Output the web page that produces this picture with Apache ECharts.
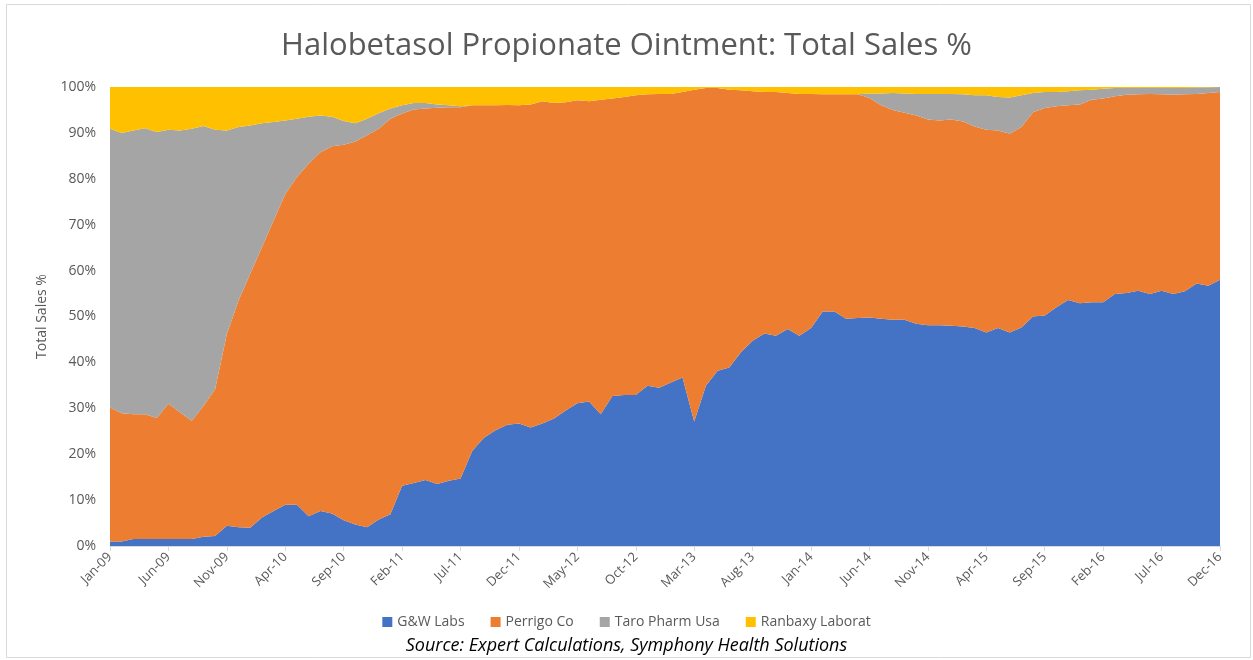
<!DOCTYPE html>
<html>
<head>
<meta charset="utf-8">
<script src="https://cdn.jsdelivr.net/npm/echarts@6/dist/echarts.min.js"></script>
<style>
html,body{margin:0;padding:0;background:#fff;}
#chart{width:1253px;height:660px;}
</style>
</head>
<body>
<div id="chart"></div>
<script>
// Months Jan-09 .. Dec-16
var monthNames = ['Jan','Feb','Mar','Apr','May','Jun','Jul','Aug','Sep','Oct','Nov','Dec'];
var years = ['09','10','11','12','13','14','15','16'];
var categories = [];
years.forEach(function(y){ monthNames.forEach(function(m){ categories.push(m + '-' + y); }); });

var seriesNames = ['G&W Labs','Perrigo Co','Taro Pharm Usa','Ranbaxy Laborat'];

var gwLabs = [
 1.0,1.0,1.5,1.5,1.5,1.5,1.5,1.5,2.0,2.2,
 4.4,4.1,4.0,6.2,7.6,9.0,9.0,6.5,7.6,7.1,
 5.6,4.7,4.1,5.8,6.9,13.1,13.7,14.4,13.5,14.2,
 14.7,20.7,23.6,25.2,26.4,26.7,25.8,26.7,27.8,29.5,
 31.1,31.5,28.7,32.7,32.9,32.9,34.9,34.5,35.6,36.7,
 27.1,34.9,38.2,38.9,42.2,44.7,46.3,45.8,47.3,45.8,
 47.5,51.1,51.1,49.5,49.7,49.8,49.5,49.3,49.3,48.4,
 48.1,48.1,48.0,47.8,47.5,46.5,47.5,46.5,47.6,50.0,
 50.2,52.0,53.6,52.9,53.1,53.1,54.9,55.1,55.6,54.9,
 55.6,54.9,55.5,57.2,56.7,58.0
];
var perrigo = [
 29.2,27.9,27.2,27.2,26.4,29.5,27.6,25.8,28.5,32.0,
 41.8,49.4,55.3,58.9,63.3,67.7,71.4,76.8,78.2,80.0,
 81.8,83.4,85.4,85.1,86.2,81.1,81.4,80.9,82.0,81.4,
 80.9,75.3,72.4,70.8,69.7,69.3,70.4,70.2,68.7,67.2,
 66.0,65.4,68.5,64.8,64.9,65.3,63.5,64.0,62.9,62.2,
 72.3,64.9,61.6,60.5,57.1,54.4,52.6,53.1,51.4,52.7,
 51.0,47.3,47.3,48.9,48.7,47.8,46.5,45.7,45.1,45.4,
 44.8,44.6,44.9,44.7,43.9,44.2,43.0,43.3,43.7,44.5,
 45.2,43.8,42.4,43.3,44.1,44.4,43.1,43.2,42.8,43.6,
 42.8,43.4,42.9,41.3,42.0,40.9
];
var taro = [
 60.7,61.1,61.8,62.3,62.3,59.7,61.4,63.6,61.0,56.5,
 44.3,37.8,32.3,27.0,21.5,16.0,12.7,10.2,8.0,6.4,
 5.2,4.0,3.6,3.4,2.2,1.8,1.4,1.2,0.7,0.4,
 0.2,0,0,0,0,0,0,0,0,0,
 0,0,0,0,0,0,0,0,0,0,
 0,0,0,0,0,0,0,0,0,0,
 0,0,0,0,0,1.0,2.6,3.7,4.2,4.7,
 5.6,5.8,5.6,5.9,6.8,7.5,7.3,7.9,6.9,4.2,
 3.5,3.1,3.1,3.1,2.2,2.1,1.8,1.5,1.4,1.3,
 1.4,1.5,1.4,1.4,1.2,1.1
];
var ranbaxy = [
 9.1,10.0,9.5,9.0,9.8,9.3,9.5,9.1,8.5,9.3,
 9.5,8.7,8.4,7.9,7.6,7.3,6.9,6.5,6.2,6.5,
 7.4,7.9,6.9,5.7,4.7,4.0,3.5,3.5,3.8,4.0,
 4.2,4.0,4.0,4.0,3.9,4.0,3.8,3.1,3.5,3.3,
 2.9,3.1,2.8,2.5,2.2,1.8,1.6,1.5,1.5,1.1,
 0.6,0.2,0.2,0.6,0.7,0.9,1.1,1.1,1.3,1.5,
 1.5,1.6,1.6,1.6,1.6,1.4,1.4,1.3,1.4,1.5,
 1.5,1.5,1.5,1.6,1.8,1.8,2.2,2.3,1.8,1.3,
 1.1,1.1,0.9,0.7,0.6,0.4,0.2,0.2,0.2,0.2,
 0.2,0.2,0.2,0.1,0.1,0
];
var yTicks = [0,10,20,30,40,50,60,70,80,90,100];

var colors = ['#4472C4','#ED7D31','#A5A5A5','#FFC000'];
var dataSets = [gwLabs, perrigo, taro, ranbaxy];

var chart = echarts.init(document.getElementById('chart'), null, {renderer:'canvas'});
var fontFam = '"Open Sans", "Liberation Sans", sans-serif';

var option = {
  animation: false,
  backgroundColor: '#ffffff',
  color: colors,
  title: {
    text: 'Halobetasol Propionate Ointment: Total Sales %',
    left: 'center',
    top: 26,
    textStyle: {fontFamily: fontFam, fontSize: 31, fontWeight: 'normal', color: '#595959'}
  },
  legend: {
    data: seriesNames,
    bottom: 26,
    left: 'center',
    itemWidth: 10,
    itemHeight: 10,
    itemGap: 26,
    icon: 'rect',
    textStyle: {fontFamily: fontFam, fontSize: 14, color: '#595959'}
  },
  grid: {left: 110, right: 33, top: 87, bottom: 114, containLabel: false},
  xAxis: {
    type: 'category',
    boundaryGap: false,
    data: categories,
    axisLine: {lineStyle: {color: '#d9d9d9'}},
    axisTick: {show: true, interval: 4, length: 5, lineStyle: {color: '#d9d9d9'}},
    axisLabel: {interval: 4, rotate: 45, fontFamily: fontFam, fontSize: 13, color: '#595959', margin: 9},
    splitLine: {show: false}
  },
  yAxis: {
    type: 'value',
    min: 0, max: 100, interval: 10,
    name: 'Total Sales %',
    nameLocation: 'middle',
    nameGap: 60,
    nameRotate: 90,
    nameTextStyle: {fontFamily: fontFam, fontSize: 14, color: '#595959'},
    axisLine: {show: false},
    axisTick: {show: false},
    axisLabel: {
      fontFamily: fontFam, fontSize: 14, color: '#595959', margin: 14,
      formatter: function(v){ return yTicks.indexOf(v) >= 0 ? v + '%' : ''; }
    },
    splitLine: {show: true, lineStyle: {color: '#d9d9d9'}}
  },
  graphic: [
    {type: 'rect', shape: {x: 6.5, y: 4.5, width: 1244, height: 653}, style: {fill: 'none', stroke: '#d9d9d9', lineWidth: 1}, silent: true, z: -10},
    {type: 'text', left: 'center', top: 637, style: {text: 'Source: Expert Calculations, Symphony Health Solutions', fontFamily: fontFam, fontSize: 18, fontStyle: 'italic', fill: '#000000'}}
  ],
  series: seriesNames.map(function(n, k){
    return {
      name: n,
      type: 'line',
      stack: 'total',
      data: dataSets[k],
      symbol: 'none',
      lineStyle: {width: 0},
      areaStyle: {color: colors[k], opacity: 1},
      itemStyle: {color: colors[k]},
      z: 2
    };
  })
};
chart.setOption(option);
</script>
</body>
</html>
